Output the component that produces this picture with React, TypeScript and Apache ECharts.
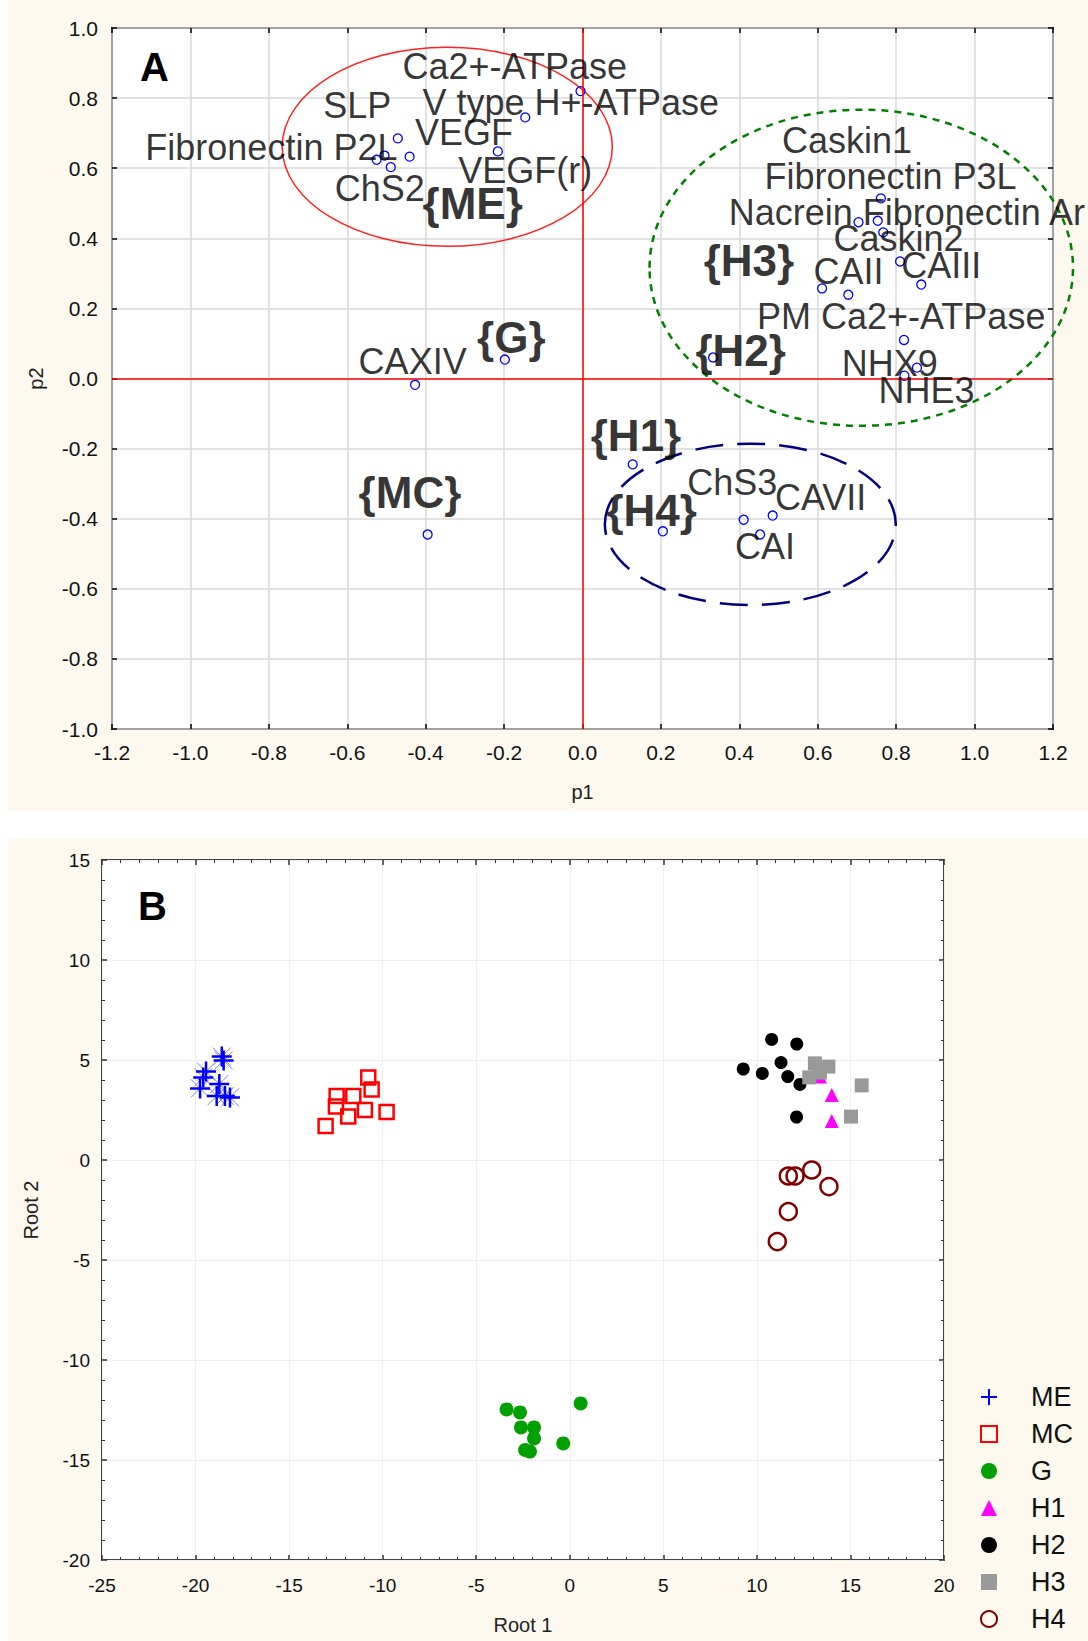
import React, { useEffect, useRef } from "react";
import * as echarts from "echarts";

// ---------- Panel A data ----------
const A_POINTS: [number, number][] = [
  [-0.005, 0.82], [-0.146, 0.745], [-0.216, 0.648], [-0.471, 0.685], [-0.441, 0.633],
  [-0.489, 0.603], [-0.525, 0.624], [-0.505, 0.636], [-0.427, -0.018], [-0.198, 0.054],
  [-0.395, -0.445], [0.128, -0.245], [0.205, -0.436], [0.411, -0.403], [0.453, -0.445],
  [0.485, -0.391], [0.333, 0.06], [0.761, 0.514], [0.704, 0.446], [0.753, 0.45],
  [0.767, 0.417], [0.81, 0.334], [0.864, 0.268], [0.611, 0.257], [0.678, 0.239],
  [0.82, 0.11], [0.853, 0.031], [0.821, 0.008],
];

const A_LABELS: [string, number, number][] = [
  ["Ca2+-ATPase", -0.459, 0.89],
  ["SLP", -0.661, 0.779],
  ["V type H+-ATPase", -0.408, 0.788],
  ["VEGF", -0.427, 0.701],
  ["Fibronectin P2L", -1.115, 0.66],
  ["VEGF(r)", -0.317, 0.594],
  ["ChS2", -0.632, 0.543],
  ["Caskin1", 0.509, 0.678],
  ["Fibronectin P3L", 0.464, 0.576],
  ["Nacrein Fibronectin Ar", 0.373, 0.475],
  ["Caskin2", 0.64, 0.4],
  ["CAII", 0.589, 0.304],
  ["CAIII", 0.813, 0.322],
  ["PM Ca2+-ATPase", 0.445, 0.176],
  ["NHX9", 0.661, 0.042],
  ["NHE3", 0.755, -0.033],
  ["CAXIV", -0.571, 0.048],
  ["ChS3", 0.267, -0.296],
  ["CAVII", 0.491, -0.34],
  ["CAI", 0.389, -0.478],
];

const A_GROUPS: [string, number, number][] = [
  ["{ME}", -0.408, 0.499],
  ["{H3}", 0.309, 0.337],
  ["{H2}", 0.288, 0.081],
  ["{G}", -0.269, 0.116],
  ["{H1}", 0.021, -0.164],
  ["{MC}", -0.571, -0.325],
  ["{H4}", 0.061, -0.376],
];

// ellipses: [cx, cy, rx, ry] in data units
const A_ELLIPSES: [number, number, number, number][] = [
  [-0.345, 0.661, 0.421, 0.284],
  [0.711, 0.316, 0.54, 0.451],
  [0.428, -0.416, 0.371, 0.23],
];
const ELLIPSE_STYLES = [
  { stroke: "#ff2020", lineWidth: 1.5, lineDash: null as any },
  { stroke: "#008000", lineWidth: 2.5, lineDash: [7, 6] },
  { stroke: "#000080", lineWidth: 2.5, lineDash: [28, 14] },
];

// ---------- Panel B data ----------
const GROUP_NAMES = ["ME", "MC", "G", "H1", "H2", "H3", "H4"];
const B_ME: [number, number][] = [
  [-18.6, 5.17], [-18.5, 4.98], [-19.44, 4.42], [-19.59, 4.13], [-19.76, 3.58],
  [-18.73, 3.8], [-18.87, 3.2], [-18.43, 3.2], [-18.16, 3.13],
];
const B_MC: [number, number][] = [
  [-10.77, 4.13], [-10.59, 3.53], [-12.46, 3.2], [-11.57, 3.2], [-12.5, 2.67],
  [-10.95, 2.5], [-11.84, 2.17], [-9.79, 2.4], [-13.05, 1.7],
];
const B_G: [number, number][] = [
  [-3.38, -12.47], [-2.66, -12.62], [-2.61, -13.37], [-1.91, -13.37], [-1.91, -13.92],
  [-2.39, -14.5], [-2.13, -14.58], [-0.35, -14.17], [0.58, -12.17],
];
const B_H1: [number, number][] = [[13.37, 4.17], [14.0, 3.25], [14.0, 1.95]];
const B_H2: [number, number][] = [
  [10.79, 6.03], [12.13, 5.8], [11.29, 4.87], [9.27, 4.55], [10.29, 4.33],
  [11.65, 4.17], [12.3, 3.78], [12.12, 2.15],
];
const B_H3: [number, number][] = [
  [13.1, 4.83], [13.82, 4.67], [12.8, 4.13], [13.37, 4.37], [15.6, 3.73], [15.03, 2.17],
];
const B_H4: [number, number][] = [
  [11.68, -0.8], [12.04, -0.8], [12.93, -0.5], [13.85, -1.33], [11.68, -2.58], [11.09, -4.08],
];

const FONT = "Liberation Sans, Arial, sans-serif";
const CREAM = "#fdf9ee";
const PLUS = "path://M10,0L10,20M0,10L20,10";
const CROSS = "path://M3,3L17,17M3,17L17,3";

function fmt1(v: number) {
  const x = Math.abs(v) < 1e-9 ? 0 : v;
  return x.toFixed(1);
}

export default function App() {
  const ref = useRef<HTMLDivElement>(null);
  useEffect(() => {
    if (!ref.current) return;
    const chart = echarts.init(ref.current, undefined, { renderer: "svg" });

    const mirrorTick = (minor: boolean, color: string) => ({
      axisLine: { show: false, onZero: false },
      axisLabel: { show: false },
      splitLine: { show: false },
      axisTick: { show: true, inside: true, length: 5, lineStyle: { color, width: 1.5 } },
      minorTick: { show: minor, splitNumber: 5, length: 3, lineStyle: { color, width: 1 } },
    });

    const aX = { type: "value", min: -1.2, max: 1.2, interval: 0.2 };
    const aY = { type: "value", min: -1, max: 1, interval: 0.2 };
    const bX = { type: "value", min: -25, max: 20, interval: 5 };
    const bY = { type: "value", min: -20, max: 15, interval: 5 };

    const option: any = {
      animation: false,
      graphic: [
        { type: "rect", z: -10, shape: { x: 8, y: 0, width: 1080, height: 811 }, style: { fill: CREAM } },
        { type: "rect", z: -10, shape: { x: 8, y: 838, width: 1080, height: 803 }, style: { fill: CREAM } },
        { type: "text", z: 10, x: 140, y: 67, style: { text: "A", font: `bold 40px ${FONT}`, fill: "#000", verticalAlign: "middle" } },
        { type: "text", z: 10, x: 138, y: 906, style: { text: "B", font: `bold 40px ${FONT}`, fill: "#000", verticalAlign: "middle" } },
      ],
      grid: [
        { left: 112, top: 28, width: 941, height: 701, show: true, backgroundColor: "#fff", borderColor: "#000", borderWidth: 2 },
        { left: 102, top: 860, width: 842, height: 700, show: true, backgroundColor: "#fff", borderColor: "#444", borderWidth: 2 },
      ],
      xAxis: [
        {
          ...aX, gridIndex: 0, position: "bottom",
          name: "p1", nameLocation: "middle", nameGap: 53,
          nameTextStyle: { fontFamily: FONT, fontSize: 20, color: "#222" },
          axisLine: { show: false, onZero: false },
          axisTick: { show: true, inside: true, length: 5, lineStyle: { color: "#000", width: 1.5 } },
          axisLabel: { fontFamily: FONT, fontSize: 21, color: "#111", margin: 13, formatter: fmt1 },
          splitLine: { show: true, lineStyle: { color: "#d8d8d8", width: 1.5 } },
        },
        { ...aX, gridIndex: 0, position: "top", ...mirrorTick(false, "#000") },
        {
          ...bX, gridIndex: 1, position: "bottom",
          name: "Root 1", nameLocation: "middle", nameGap: 55,
          nameTextStyle: { fontFamily: FONT, fontSize: 20, color: "#222" },
          axisLine: { show: false, onZero: false },
          axisTick: { show: true, inside: true, length: 5, lineStyle: { color: "#333", width: 1.5 } },
          minorTick: { show: true, splitNumber: 5, length: 3, lineStyle: { color: "#333", width: 1 } },
          axisLabel: { fontFamily: FONT, fontSize: 19, color: "#111", margin: 16 },
          splitLine: { show: true, lineStyle: { color: "#efefef", width: 1 } },
        },
        { ...bX, gridIndex: 1, position: "top", ...mirrorTick(true, "#333") },
      ],
      yAxis: [
        {
          ...aY, gridIndex: 0, position: "left",
          name: "p2", nameLocation: "middle", nameGap: 66,
          nameTextStyle: { fontFamily: FONT, fontSize: 20, color: "#222" },
          axisLine: { show: false, onZero: false },
          axisTick: { show: true, inside: true, length: 5, lineStyle: { color: "#000", width: 1.5 } },
          axisLabel: { fontFamily: FONT, fontSize: 21, color: "#111", margin: 14, formatter: fmt1 },
          splitLine: { show: true, lineStyle: { color: "#d8d8d8", width: 1.5 } },
        },
        { ...aY, gridIndex: 0, position: "right", ...mirrorTick(false, "#000") },
        {
          ...bY, gridIndex: 1, position: "left",
          name: "Root 2", nameLocation: "middle", nameGap: 61,
          nameTextStyle: { fontFamily: FONT, fontSize: 20, color: "#222" },
          axisLine: { show: false, onZero: false },
          axisTick: { show: true, inside: true, length: 5, lineStyle: { color: "#333", width: 1.5 } },
          minorTick: { show: true, splitNumber: 5, length: 3, lineStyle: { color: "#333", width: 1 } },
          axisLabel: { fontFamily: FONT, fontSize: 19, color: "#111", margin: 12 },
          splitLine: { show: true, lineStyle: { color: "#efefef", width: 1 } },
        },
        { ...bY, gridIndex: 1, position: "right", ...mirrorTick(true, "#333") },
      ],
      legend: {
        data: GROUP_NAMES,
        orient: "vertical",
        left: 980,
        top: 1382,
        padding: 0,
        itemWidth: 16,
        itemHeight: 16,
        itemGap: 7,
        selectedMode: false,
        textStyle: { fontFamily: FONT, fontSize: 27, color: "#111", lineHeight: 30, padding: [0, 0, 0, 29] },
      },
      series: [
        {
          type: "custom",
          name: "ellipses",
          xAxisIndex: 0, yAxisIndex: 0,
          clip: false,
          silent: true,
          z: 3,
          data: A_ELLIPSES,
          renderItem: (params: any, api: any) => {
            const c = api.coord([api.value(0), api.value(1)]);
            const s = api.size([api.value(2), api.value(3)]);
            const st = ELLIPSE_STYLES[params.dataIndex];
            return {
              type: "ellipse",
              shape: { cx: c[0], cy: c[1], rx: s[0], ry: s[1] },
              style: { fill: "none", stroke: st.stroke, lineWidth: st.lineWidth, lineDash: st.lineDash },
            };
          },
        },
        {
          type: "scatter",
          name: "variables",
          xAxisIndex: 0, yAxisIndex: 0,
          symbol: "circle",
          symbolSize: 9,
          z: 4,
          itemStyle: { color: "rgba(255,255,255,0)", borderColor: "#0000ff", borderWidth: 1.3, opacity: 1 },
          data: A_POINTS,
          markLine: {
            silent: true,
            symbol: "none",
            label: { show: false },
            lineStyle: { color: "#ff0000", width: 1.5, type: "solid" },
            data: [{ xAxis: 0 }, { yAxis: 0 }],
          },
        },
        {
          type: "scatter",
          name: "labels",
          xAxisIndex: 0, yAxisIndex: 0,
          symbolSize: 0,
          silent: true,
          z: 5,
          data: A_LABELS.map(([t, x, y]) => ({ name: t, value: [x, y] })),
          label: {
            show: true, position: "right", distance: 0,
            formatter: (p: any) => p.name,
            fontFamily: FONT, fontSize: 36, color: "#000",
          },
        },
        {
          type: "scatter",
          name: "groups",
          xAxisIndex: 0, yAxisIndex: 0,
          symbolSize: 0,
          silent: true,
          z: 5,
          data: A_GROUPS.map(([t, x, y]) => ({ name: t, value: [x, y] })),
          label: {
            show: true, position: "right", distance: 0,
            formatter: (p: any) => p.name,
            fontFamily: FONT, fontSize: 44, fontWeight: "bold", color: "#000",
          },
        },
        // ----- Panel B -----
        {
          type: "scatter", name: "MEx", xAxisIndex: 2, yAxisIndex: 2,
          symbol: CROSS, symbolSize: 18,
          itemStyle: { color: "#8080ff", borderColor: "#8080ff", borderWidth: 1, opacity: 1 },
          data: B_ME,
        },
        {
          type: "scatter", name: "ME", xAxisIndex: 2, yAxisIndex: 2,
          symbol: PLUS, symbolSize: 20,
          itemStyle: { color: "#0000ff", borderColor: "#0000ff", borderWidth: 2.5, opacity: 1 },
          data: B_ME,
        },
        {
          type: "scatter", name: "MC", xAxisIndex: 2, yAxisIndex: 2,
          symbol: "rect", symbolSize: 14,
          itemStyle: { color: "rgba(255,255,255,0)", borderColor: "#ff0000", borderWidth: 2.5, opacity: 1 },
          data: B_MC,
        },
        {
          type: "scatter", name: "G", xAxisIndex: 2, yAxisIndex: 2,
          symbol: "circle", symbolSize: 14,
          itemStyle: { color: "#00a000", opacity: 1 },
          data: B_G,
        },
        {
          type: "scatter", name: "H1", xAxisIndex: 2, yAxisIndex: 2,
          symbol: "triangle", symbolSize: 14,
          itemStyle: { color: "#ff00ff", opacity: 1 },
          data: B_H1,
        },
        {
          type: "scatter", name: "H2", xAxisIndex: 2, yAxisIndex: 2,
          symbol: "circle", symbolSize: 13,
          itemStyle: { color: "#000000", opacity: 1 },
          data: B_H2,
        },
        {
          type: "scatter", name: "H3", xAxisIndex: 2, yAxisIndex: 2,
          symbol: "rect", symbolSize: 14,
          itemStyle: { color: "#999999", opacity: 1 },
          data: B_H3,
        },
        {
          type: "scatter", name: "H4", xAxisIndex: 2, yAxisIndex: 2,
          symbol: "circle", symbolSize: 17,
          itemStyle: { color: "rgba(255,255,255,0)", borderColor: "#800000", borderWidth: 2.5, opacity: 1 },
          data: B_H4,
        },
      ],
    };
    chart.setOption(option);
    return () => chart.dispose();
  }, []);

  return (
    <div
      ref={ref}
      style={{ position: "absolute", left: 0, top: 0, width: 1088, height: 1641 }}
    />
  );
}
